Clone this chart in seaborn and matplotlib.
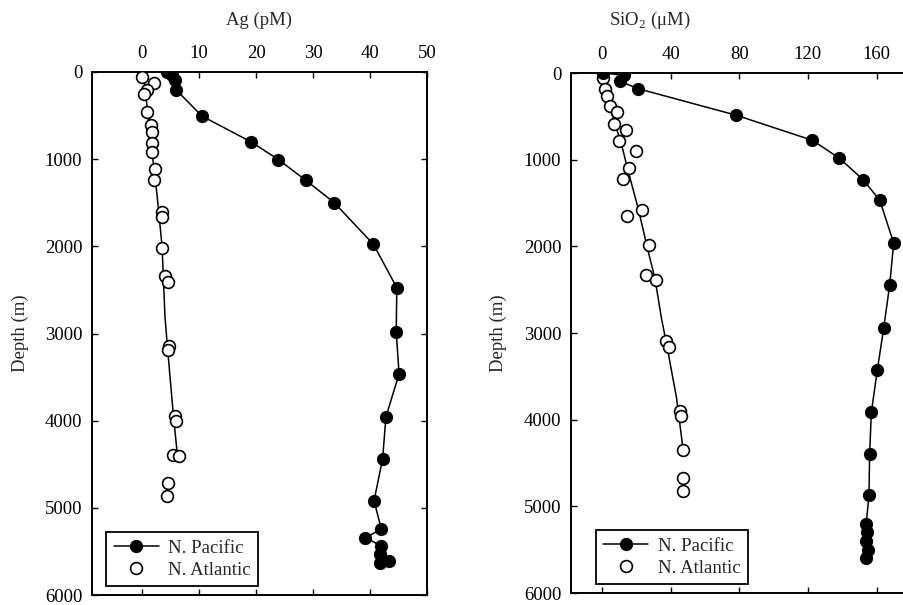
import matplotlib
matplotlib.use("Agg")
import matplotlib.pyplot as plt
from matplotlib.lines import Line2D
import seaborn as sns
import pandas as pd

# ---------------- data ----------------
# Ag (pM) profiles
pac_ag = [4.3, 5.2, 5.7, 6.0, 10.5, 19.1, 23.9, 28.7, 33.7, 40.6, 44.7, 44.6, 45.1,
          42.8, 42.2, 40.7, 42.0, 39.2, 41.9, 41.8, 43.4, 41.8]
pac_ag_depth = [4, 35, 90, 207, 506, 801, 1004, 1241, 1498, 1977, 2475, 2985, 3464,
                3954, 4441, 4920, 5245, 5341, 5437, 5533, 5609, 5628]

atl_ag = [0.0, 2.0, 0.8, 0.4, 0.9, 1.6, 1.7, 1.7, 1.8, 2.3, 2.1, 3.5, 3.5, 3.5, 4.0,
          4.6, 4.8, 4.6, 5.8, 6.0, 5.5, 6.4, 4.6, 4.4]
atl_ag_depth = [61, 130, 207, 257, 456, 609, 686, 820, 916, 1115, 1241, 1605, 1663,
                2019, 2345, 2410, 3138, 3195, 3943, 4000, 4391, 4402, 4720, 4862]
# trend line through the N. Atlantic Ag profile
atl_ag_line = [0.2, 1.7, 2.6, 3.5, 4.0, 4.5, 5.5, 6.2]
atl_ag_line_depth = [0, 900, 1400, 2000, 2800, 3200, 3950, 4400]

# SiO2 (uM) profiles
pac_si = [0.8, 12.8, 10.5, 21.1, 78.4, 122.7, 138.2, 152.2, 161.9, 170.0, 167.7,
          164.2, 160.5, 157.0, 156.0, 155.6, 154.0, 154.5, 154.0, 155.0, 154.0]
pac_si_depth = [0, 27, 96, 181, 488, 777, 981, 1231, 1469, 1961, 2442,
                2942, 3423, 3915, 4392, 4872, 5200, 5300, 5400, 5500, 5600]

atl_si = [0.4, 1.9, 3.1, 4.7, 8.9, 7.0, 14.0, 10.1, 19.8, 15.9, 12.4, 23.1, 14.7,
          27.6, 25.6, 31.4, 37.3, 39.2, 45.4, 45.8, 47.4, 47.0, 47.0]
atl_si_depth = [58, 181, 269, 385, 450, 588, 654, 788, 903, 1096, 1223, 1577, 1654,
                1988, 2327, 2392, 3096, 3165, 3896, 3962, 4354, 4673, 4819]
atl_si_line = [0.6, 4.7, 11.5, 15.3, 21.1, 27.0, 30.9, 34.7, 37.7, 43.5, 47.4]
atl_si_line_depth = [50, 400, 830, 1130, 1560, 2060, 2370, 2830, 3130, 3750, 4360]

ag_ticks = [0, 10, 20, 30, 40, 50]
si_ticks = [0, 40, 80, 120, 160]
depth_ticks = [0, 1000, 2000, 3000, 4000, 5000, 6000]
series_names = ["N. Pacific", "N. Atlantic"]

# ---------------- style ----------------
sns.set_style("ticks")
plt.rcParams['font.family'] = ['Liberation Serif', 'DejaVu Serif']
plt.rcParams['mathtext.fontset'] = 'custom'
plt.rcParams['mathtext.rm'] = 'Liberation Serif'
FS = 13.5

fig = plt.figure(figsize=(9.04, 6.05), dpi=100)
ax1 = fig.add_axes([92/904, (605-595)/605, 335/904, 523/605])
ax2 = fig.add_axes([571/904, (605-593)/605, 357/904, 520/605])

MS = 8.5
LW = 1.1


def draw(ax, pac_x, pac_y, atl_x, atl_y, line_x, line_y):
    pac = pd.DataFrame({"x": pac_x, "y": pac_y})
    atl = pd.DataFrame({"x": atl_x, "y": atl_y})
    ln = pd.DataFrame({"x": line_x, "y": line_y})
    sns.lineplot(data=pac, x="x", y="y", sort=False, estimator=None, color="black",
                 lw=LW, ax=ax, zorder=2)
    sns.lineplot(data=ln, x="x", y="y", sort=False, estimator=None, color="black",
                 lw=LW, ax=ax, zorder=2)
    sns.scatterplot(data=atl, x="x", y="y", marker="o", s=MS**2, facecolor="white",
                    edgecolor="black", linewidth=1.2, ax=ax, zorder=3)
    sns.scatterplot(data=pac, x="x", y="y", marker="o", s=MS**2, color="black",
                    edgecolor="black", linewidth=1.0, ax=ax, zorder=4)


draw(ax1, pac_ag, pac_ag_depth, atl_ag, atl_ag_depth, atl_ag_line, atl_ag_line_depth)
draw(ax2, pac_si, pac_si_depth, atl_si, atl_si_depth, atl_si_line, atl_si_line_depth)

ax1.set_xlim(-8.8, 50)
ax2.set_xlim(-18, 190)
for ax, ticks in ((ax1, ag_ticks), (ax2, si_ticks)):
    ax.set_ylim(6000, 0)
    ax.set_xticks(ticks)
    ax.set_yticks(depth_ticks)
    ax.tick_params(axis='x', which='both', top=True, bottom=True, labeltop=True,
                   labelbottom=False, direction='in', length=4, width=1.0,
                   pad=7, labelsize=FS, colors='black')
    ax.tick_params(axis='y', which='both', left=True, right=True, direction='in',
                   length=4, width=1.0, pad=7, labelsize=FS, colors='black')
    for sp in ax.spines.values():
        sp.set_visible(True)
        sp.set_linewidth(1.4)
        sp.set_color('black')
    ax.set_ylabel("Depth (m)", fontsize=FS, va='center')
    ax.xaxis.set_label_position('top')
    ax.grid(False)

ax1.set_xlabel("Ag (pM)", fontsize=FS, va='center')
ax2.set_xlabel("SiO$_2$ (μM)", fontsize=FS, va='center')
ax1.xaxis.set_label_coords(0.5, 1 + 52/523)
ax2.xaxis.set_label_coords(0.221, 1 + 53/520)
ax1.yaxis.set_label_coords((20-92)/335, 0.5)
ax2.yaxis.set_label_coords((498-571)/357, 0.5)

handles = [
    Line2D([0], [0], color='black', lw=LW, marker='o', markersize=MS,
           markerfacecolor='black', markeredgecolor='black'),
    Line2D([0], [0], color='none', lw=0, marker='o', markersize=MS,
           markerfacecolor='white', markeredgecolor='black', markeredgewidth=1.2),
]
for ax, anchor in ((ax1, (0.042, 0.017)), (ax2, (0.07, 0.017))):
    leg = ax.legend(handles, series_names, loc='lower left', bbox_to_anchor=anchor,
                    borderaxespad=0, fontsize=FS, frameon=True, fancybox=False,
                    handlelength=2.4, handletextpad=0.5, borderpad=0.4,
                    labelspacing=0.25)
    leg.get_frame().set_edgecolor('black')
    leg.get_frame().set_linewidth(1.3)
    leg.get_frame().set_alpha(1)

fig.savefig("out.png", dpi=100)
